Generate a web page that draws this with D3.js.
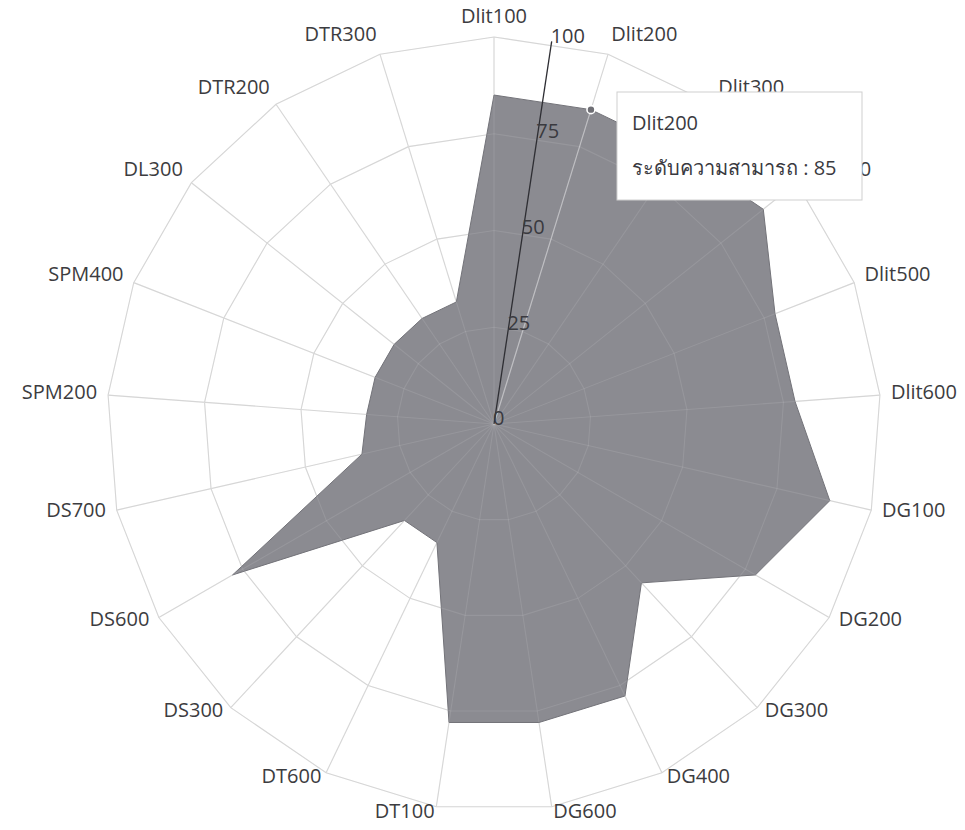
<!DOCTYPE html>
<html>
<head>
<meta charset="utf-8">
<script src="https://cdn.jsdelivr.net/npm/d3@7"></script>
<style>
  html, body { margin: 0; padding: 0; background: #ffffff; }
  svg { display: block; }
  text { font-family: "Open Sans", "Noto Sans", "DejaVu Sans", sans-serif; }
</style>
</head>
<body>
<svg id="chart" width="965" height="830"></svg>
<script>
// ---- data ----
const categories = ["Dlit100","Dlit200","Dlit300","Dlit400","Dlit500","Dlit600",
  "DG100","DG200","DG300","DG400","DG600","DT100","DT600","DS300","DS600","DS700",
  "SPM200","SPM400","DL300","DTR200","DTR300"];
const values = [85,85,85,89,78,78,89,78,56,78,78,78,34,34,78,35,33,33,33,33,33];
const tickValues = [0,25,50,75,100];
const seriesName = "ระดับความสามารถ";
const hoverIndex = 1;

// ---- layout ----
const cx = 494, cy = 424, R = 387;
const FS = 20;
const svg = d3.select("#chart");
const g = svg.append("g").attr("transform", `translate(${cx},${cy})`);

const n = categories.length;
const angle = d3.scalePoint().domain(categories).range([0, 2*Math.PI*(n-1)/n]);
const r = d3.scaleLinear().domain([0, 100]).range([0, R]);
const pt = (a, rad) => [rad*Math.sin(a), -rad*Math.cos(a)];

// grid
function drawGrid(sel, stroke, op) {
  const gg = sel.append("g").attr("stroke", stroke).attr("stroke-opacity", op)
    .attr("fill", "none").attr("stroke-width", 1.1);
  tickValues.filter(v => v > 0).forEach(v => {
    gg.append("path").attr("d", d3.line()(categories.map(c => pt(angle(c), r(v)))) + "Z");
  });
  categories.forEach(c => {
    const p = pt(angle(c), R);
    gg.append("line").attr("x1", 0).attr("y1", 0).attr("x2", p[0]).attr("y2", p[1]);
  });
}
drawGrid(g, "#d2d2d2", 1);

// series area
const radial = d3.lineRadial()
  .angle((d, i) => angle(categories[i]))
  .radius(d => r(d))
  .curve(d3.curveLinearClosed);
g.append("path")
  .attr("d", radial(values))
  .attr("fill", "#8b8b91")
  .attr("stroke", "#737379")
  .attr("stroke-width", 1);

// grid seen through the fill
drawGrid(g, "#ffffff", 0.1);

// hover cursor line
const hp = pt(angle(categories[hoverIndex]), r(values[hoverIndex]));
g.append("line").attr("x1", 0).attr("y1", 0).attr("x2", hp[0]).attr("y2", hp[1])
  .attr("stroke", "#e8e8ea").attr("stroke-opacity", 0.5).attr("stroke-width", 1.2);

// value axis (half step after first category)
const axAng = Math.PI / n;
const axEnd = pt(axAng, R);
g.append("line").attr("x1", 0).attr("y1", 0).attr("x2", axEnd[0]).attr("y2", axEnd[1])
  .attr("stroke", "#2e2e33").attr("stroke-width", 1.3);
tickValues.forEach(v => {
  const p = pt(axAng, r(v));
  g.append("text").attr("x", p[0] - 1).attr("y", p[1] - 4)
    .attr("dominant-baseline", "middle")
    .attr("font-size", FS).attr("fill", "#3a3a3f")
    .text(v);
});

// category labels
categories.forEach(c => {
  const a = angle(c);
  const s = Math.sin(a), co = Math.cos(a);
  const p = pt(a, R + 11);
  const anchor = Math.abs(s) < 0.05 ? "middle" : (s > 0 ? "start" : "end");
  const dy = co > 0 ? -co * 8 : co * 5;
  g.append("text").attr("x", p[0]).attr("y", p[1] + dy)
    .attr("text-anchor", anchor).attr("dominant-baseline", "middle")
    .attr("font-size", FS).attr("fill", "#3c3c40")
    .text(c);
});

// hover marker
g.append("circle").attr("cx", hp[0]).attr("cy", hp[1]).attr("r", 4)
  .attr("fill", "#6f6f75").attr("stroke", "#ffffff").attr("stroke-width", 1.6);

// tooltip
const tip = svg.append("g").attr("transform", "translate(617,92)");
tip.append("rect").attr("width", 245).attr("height", 108)
  .attr("fill", "#ffffff").attr("stroke", "#cfcfcf").attr("stroke-width", 1);
tip.append("text").attr("x", 15).attr("y", 33).attr("dominant-baseline", "middle")
  .attr("font-size", FS).attr("fill", "#3a3a3f").text(categories[hoverIndex]);
tip.append("text").attr("x", 15).attr("y", 78).attr("dominant-baseline", "middle")
  .attr("font-size", FS).attr("fill", "#3a3a3f")
  .text(`${seriesName} : ${values[hoverIndex]}`);
</script>
</body>
</html>
